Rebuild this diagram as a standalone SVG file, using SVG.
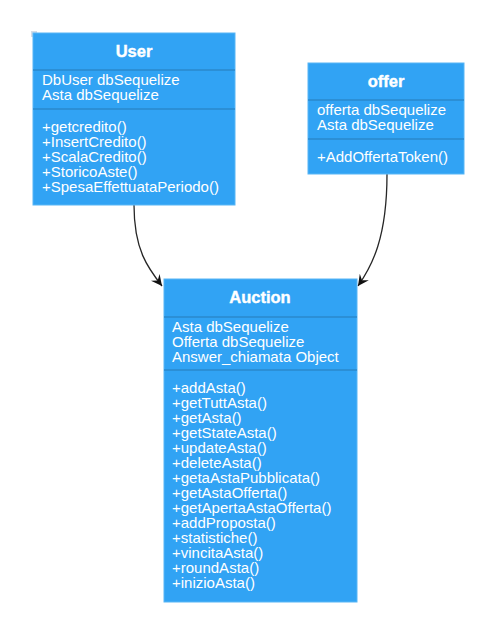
<svg xmlns="http://www.w3.org/2000/svg" width="493" height="631" viewBox="0 0 493 631">
<style>
.box{fill:#31a3f4;stroke:#58b6f6;stroke-width:1}
.div{stroke:#2a88cc;stroke-width:1.5}
.hd{font-family:"Liberation Sans",Arial,sans-serif;font-weight:bold;font-size:16.5px;fill:#fff;stroke:#fff;stroke-width:0.4;text-anchor:middle}
.tx{font-family:"Liberation Sans",Arial,sans-serif;font-size:15px;fill:#fff}
.edge{fill:none;stroke:#262626;stroke-width:1.3}
</style>
<defs>
<marker id="arr" viewBox="0 0 12 12" refX="11" refY="6" markerWidth="12" markerHeight="12" markerUnits="userSpaceOnUse" orient="auto">
<path d="M0,0.5 L11,6 L0,11.5 L4,6 Z" fill="#111"/>
</marker>
</defs>
<rect x="31" y="31" width="6" height="6" fill="#d5dde8"/>
<g id="connectors">
<path class="edge" d="M134,205 C134,250 148,268 162,286" marker-end="url(#arr)"/>
<path class="edge" d="M387,174 C387,238 372,266 358,286" marker-end="url(#arr)"/>
</g>
<g id="User">
<rect class="box" x="33" y="33" width="202" height="172"/>
<line class="div" x1="33" y1="70" x2="235" y2="70"/>
<line class="div" x1="33" y1="109" x2="235" y2="109"/>
<text class="hd" x="134" y="57">User</text>
<text class="tx" x="42" y="85">DbUser dbSequelize</text>
<text class="tx" x="42" y="100">Asta dbSequelize</text>
<text class="tx" x="42" y="132">+getcredito()</text>
<text class="tx" x="42" y="147">+InsertCredito()</text>
<text class="tx" x="42" y="162">+ScalaCredito()</text>
<text class="tx" x="42" y="177">+StoricoAste()</text>
<text class="tx" x="42" y="192">+SpesaEffettuataPeriodo()</text>
</g>
<g id="offer">
<rect class="box" x="308" y="63" width="156" height="111"/>
<line class="div" x1="308" y1="100" x2="464" y2="100"/>
<line class="div" x1="308" y1="139" x2="464" y2="139"/>
<text class="hd" x="386" y="87">offer</text>
<text class="tx" x="317" y="115">offerta dbSequelize</text>
<text class="tx" x="317" y="130">Asta dbSequelize</text>
<text class="tx" x="317" y="162">+AddOffertaToken()</text>
</g>
<g id="Auction">
<rect class="box" x="164" y="279" width="193" height="323"/>
<line class="div" x1="164" y1="317" x2="357" y2="317"/>
<line class="div" x1="164" y1="370" x2="357" y2="370"/>
<text class="hd" x="260" y="303">Auction</text>
<text class="tx" x="172" y="332">Asta dbSequelize</text>
<text class="tx" x="172" y="347">Offerta dbSequelize</text>
<text class="tx" x="172" y="362">Answer_chiamata Object</text>
<text class="tx" x="172" y="393">+addAsta()</text>
<text class="tx" x="172" y="408">+getTuttAsta()</text>
<text class="tx" x="172" y="423">+getAsta()</text>
<text class="tx" x="172" y="438">+getStateAsta()</text>
<text class="tx" x="172" y="453">+updateAsta()</text>
<text class="tx" x="172" y="468">+deleteAsta()</text>
<text class="tx" x="172" y="483">+getaAstaPubblicata()</text>
<text class="tx" x="172" y="498">+getAstaOfferta()</text>
<text class="tx" x="172" y="513">+getApertaAstaOfferta()</text>
<text class="tx" x="172" y="528">+addProposta()</text>
<text class="tx" x="172" y="543">+statistiche()</text>
<text class="tx" x="172" y="558">+vincitaAsta()</text>
<text class="tx" x="172" y="573">+roundAsta()</text>
<text class="tx" x="172" y="588">+inizioAsta()</text>
</g>
</svg>
